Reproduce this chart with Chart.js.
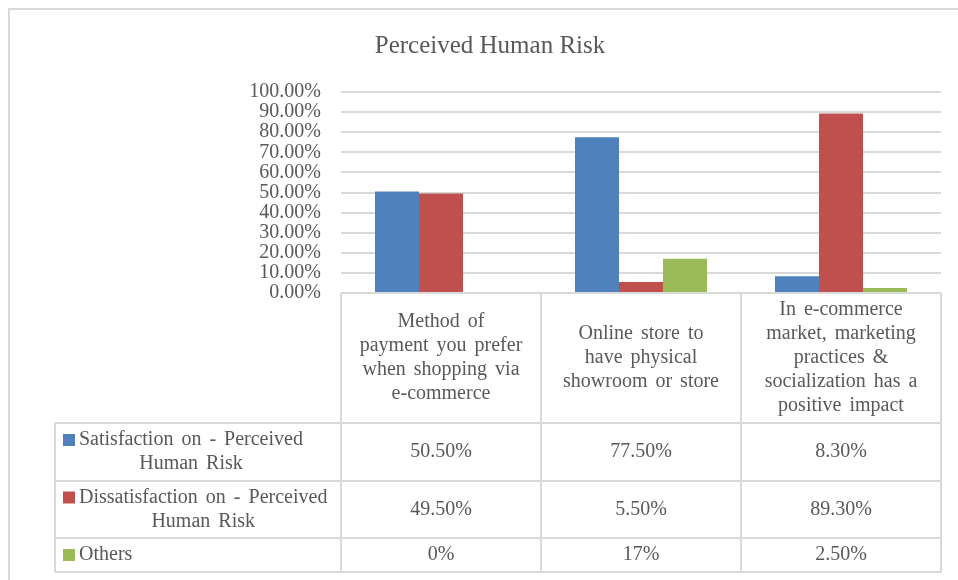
<!DOCTYPE html>
<html lang="en">
<head>
  <meta charset="UTF-8">
  <title>Perceived Human Risk</title>
  <script src="https://cdn.jsdelivr.net/npm/chart.js"></script>
  <style>
    html, body { margin: 0; padding: 0; background: #fff; }
    canvas { display: block; }
  </style>
</head>
<body>
  <canvas id="chart" width="958" height="580"></canvas>
  <script>
    // Data
    const categories = [
      ['Method of', 'payment you prefer', 'when shopping via', 'e-commerce'],
      ['Online store to', 'have physical', 'showroom or store'],
      ['In e-commerce', 'market, marketing', 'practices &', 'socialization has a', 'positive impact']
    ];
    const seriesNames = [
      ['Satisfaction on - Perceived', 'Human Risk'],
      ['Dissatisfaction on - Perceived', 'Human Risk'],
      ['Others']
    ];
    const satisfaction = [50.5, 77.5, 8.3];
    const dissatisfaction = [49.5, 5.5, 89.3];
    const others = [0, 17, 2.5];
    const seriesColors = ['#4F81BD', '#C0504D', '#9BBB59'];
    const yMax = 100;
    const yStep = 10;

    const FONT = "'Liberation Serif', 'Times New Roman', serif";
    const TEXT = '#595959';
    const LINE = '#d9d9d9';

    // formats like the Excel data table: 0%, 17%, 50.50%
    const fmt = v => Number.isInteger(v) ? v + '%' : v.toFixed(2) + '%';

    const seriesData = [satisfaction, dissatisfaction, others];

    // title, frame and data table under the plot
    const tablePlugin = {
      id: 'dataTable',
      beforeDraw(chart) {
        const ctx = chart.ctx;
        ctx.save();
        ctx.fillStyle = '#fff';
        ctx.fillRect(0, 0, chart.width, chart.height);
        ctx.strokeStyle = LINE;
        ctx.lineWidth = 2;
        ctx.strokeRect(9, 9, 1100, 1100);
        ctx.restore();
      },
      afterDraw(chart) {
        const ctx = chart.ctx;
        const area = chart.chartArea;
        const x = chart.scales.x;
        const catW = (area.right - area.left) / categories.length;
        const top = area.bottom;
        const rowBottoms = [423, 481, 538, 572];
        const legendLeft = 55;

        ctx.save();
        ctx.fillStyle = TEXT;
        ctx.textAlign = 'center';
        ctx.textBaseline = 'middle';

        // title
        ctx.font = '25px ' + FONT;
        ctx.fillText('Perceived Human Risk', 490, 46);

        // grid of the table
        ctx.strokeStyle = LINE;
        ctx.lineWidth = 2;
        ctx.beginPath();
        for (let i = 0; i <= categories.length; i++) {
          const px = Math.round(area.left + i * catW);
          ctx.moveTo(px, top);
          ctx.lineTo(px, rowBottoms[rowBottoms.length - 1]);
        }
        ctx.moveTo(legendLeft, rowBottoms[0]);
        ctx.lineTo(legendLeft, rowBottoms[rowBottoms.length - 1]);
        ctx.moveTo(area.left, top);
        ctx.lineTo(area.right, top);
        rowBottoms.forEach(y => {
          ctx.moveTo(legendLeft, y);
          ctx.lineTo(area.right, y);
        });
        ctx.stroke();

        // header labels
        ctx.font = '20px ' + FONT;
        ctx.wordSpacing = '3px';
        const lh = 24;
        const headMid = (top + rowBottoms[0]) / 2;
        categories.forEach((lines, i) => {
          const cx = x.getPixelForValue(i);
          const y0 = headMid - (lines.length - 1) * lh / 2;
          lines.forEach((t, k) => ctx.fillText(t, cx, y0 + k * lh));
        });

        // series rows
        seriesData.forEach((vals, r) => {
          const rt = rowBottoms[r];
          const rb = rowBottoms[r + 1];
          const mid = (rt + rb) / 2;
          ctx.fillStyle = TEXT;
          ctx.textAlign = 'center';
          vals.forEach((v, i) => ctx.fillText(fmt(v), x.getPixelForValue(i), mid));

          // legend cell
          const lines = seriesNames[r];
          const widths = lines.map(t => ctx.measureText(t).width);
          const blockW = Math.max(...widths);
          const tx = 79;
          const y0 = mid - (lines.length - 1) * lh / 2;
          ctx.fillStyle = seriesColors[r];
          ctx.fillRect(63, y0 - 6, 12, 12);
          ctx.fillStyle = TEXT;
          lines.forEach((t, k) => ctx.fillText(t, tx + blockW / 2, y0 + k * lh));
        });
        ctx.restore();
      }
    };

    new Chart(document.getElementById('chart'), {
      type: 'bar',
      data: {
        labels: categories.map(c => c.join(' ')),
        datasets: seriesNames.map((n, i) => ({
          label: n.join(' '),
          data: seriesData[i],
          backgroundColor: seriesColors[i],
          borderWidth: 0,
          categoryPercentage: 0.66,
          barPercentage: 1
        }))
      },
      options: {
        responsive: false,
        animation: false,
        layout: { padding: { left: 241, top: 92, right: 17, bottom: 287 } },
        plugins: {
          legend: { display: false },
          title: { display: false },
          tooltip: { enabled: false }
        },
        scales: {
          x: { display: false },
          y: {
            min: 0,
            max: yMax,
            afterFit: s => { s.width = 100; },
            border: { display: false },
            grid: { color: LINE, lineWidth: 2, drawTicks: false },
            ticks: {
              stepSize: yStep,
              autoSkip: false,
              padding: 20,
              color: TEXT,
              font: { family: FONT, size: 20, lineHeight: 1 },
              callback: v => v.toFixed(2) + '%'
            }
          }
        }
      },
      plugins: [tablePlugin]
    });
  </script>
</body>
</html>
